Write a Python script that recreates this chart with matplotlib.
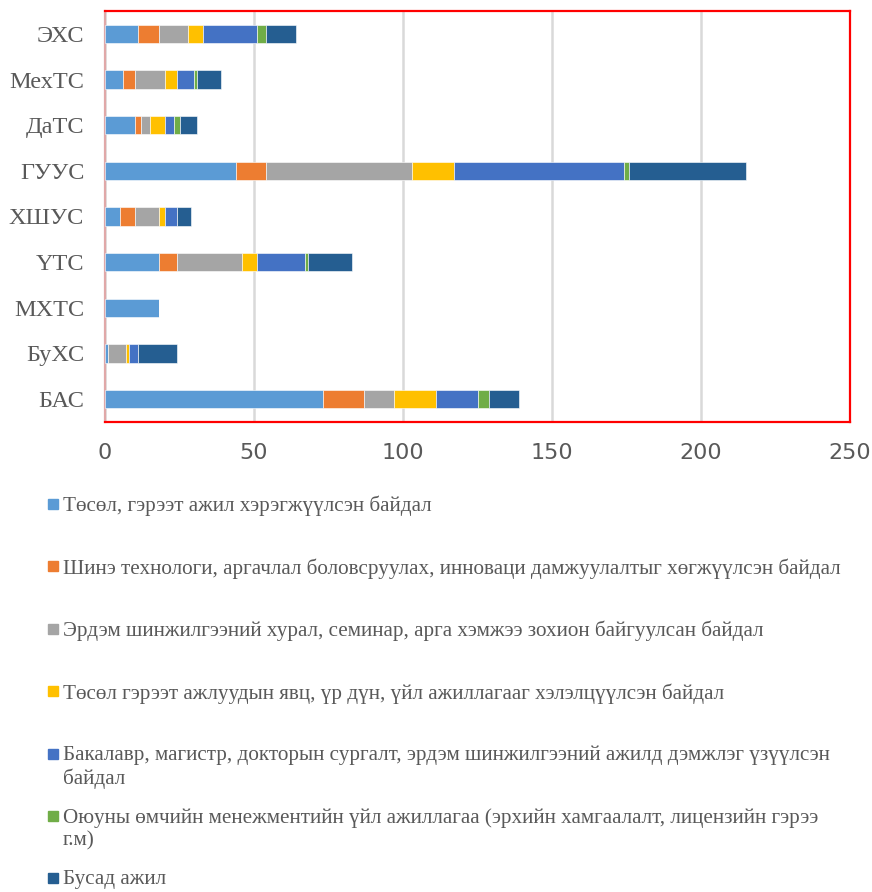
import matplotlib
matplotlib.use("Agg")
import matplotlib.pyplot as plt
from matplotlib.patches import Rectangle

# institutes, bottom to top as they appear on the y axis
schools = ["БАС", "БуХС", "МХТС", "ҮТС", "ХШУС", "ГУУС", "ДаТС", "МехТС", "ЭХС"]

tosol = [73, 1, 18, 18, 5, 44, 10, 6, 11]
shine_tech = [14, 0, 0, 6, 5, 10, 2, 4, 7]
hural = [10, 6, 0, 22, 8, 49, 3, 10, 10]
helelts = [14, 1, 0, 5, 2, 14, 5, 4, 5]
bakalavr = [14, 3, 0, 16, 4, 57, 3, 6, 18]
oyuny = [4, 0, 0, 1, 0, 2, 2, 1, 3]
busad = [10, 13, 0, 15, 5, 39, 6, 8, 10]

series = [tosol, shine_tech, hural, helelts, bakalavr, oyuny, busad]
names = [
    "Төсөл, гэрээт ажил хэрэгжүүлсэн байдал",
    "Шинэ технологи, аргачлал боловсруулах, инноваци дамжуулалтыг хөгжүүлсэн байдал",
    "Эрдэм шинжилгээний хурал, семинар, арга хэмжээ зохион байгуулсан байдал",
    "Төсөл гэрээт ажлуудын явц, үр дүн, үйл ажиллагааг хэлэлцүүлсэн байдал",
    "Бакалавр, магистр, докторын сургалт, эрдэм шинжилгээний ажилд дэмжлэг үзүүлсэн\nбайдал",
    "Оюуны өмчийн менежментийн үйл ажиллагаа (эрхийн хамгаалалт, лицензийн гэрээ\nг.м)",
    "Бусад ажил",
]
colors = ["#5B9BD5", "#ED7D31", "#A5A5A5", "#FFC000", "#4472C4", "#70AD47", "#255E91"]

W, H = 872, 892
fig = plt.figure(figsize=(W / 100, H / 100), dpi=100)
ax = fig.add_axes([105 / W, 1 - 422 / H, 745 / W, 411 / H])

left = [0] * len(schools)
for vals, c in zip(series, colors):
    ax.barh(range(len(schools)), vals, left=left, height=0.4, color=c,
            edgecolor="white", linewidth=0.4, zorder=3)
    left = [a + b for a, b in zip(left, vals)]

ax.set_xlim(0, 250)
ax.set_ylim(-0.5, len(schools) - 0.5)
ax.set_xticks([0, 50, 100, 150, 200, 250])
ax.set_yticks(range(len(schools)))
ax.set_yticklabels(schools, family="Liberation Serif", fontsize=17.5, color="#595959")
for t in ax.get_xticklabels():
    t.set_family(["Liberation Sans Narrow", "DejaVu Sans"])
    t.set_fontsize(16)
    t.set_color("#595959")
ax.tick_params(axis="both", length=0)
ax.tick_params(axis="x", pad=15)
ax.tick_params(axis="y", pad=15)
ax.grid(axis="x", color="#d9d9d9", linewidth=1.8, zorder=0)

for side in ["top", "right", "bottom"]:
    ax.spines[side].set_color("red")
    ax.spines[side].set_linewidth(1.6)
ax.spines["left"].set_color("#e0a8a8")
ax.spines["left"].set_linewidth(1.6)

# legend drawn as fixed-pitch rows below the chart
row0 = 504
pitch = 62.4
for i, (name, c) in enumerate(zip(names, colors)):
    yc = row0 + pitch * i
    fig.patches.append(Rectangle((48 / W, 1 - (yc + 5) / H), 10 / W, 10 / H,
                                 transform=fig.transFigure, color=c))
    fig.text(63 / W, 1 - (yc - 8) / H, name, family="Liberation Serif",
             fontsize=15.2, color="#595959", va="top", ha="left", linespacing=1.23)

fig.savefig("out.png", dpi=100)
